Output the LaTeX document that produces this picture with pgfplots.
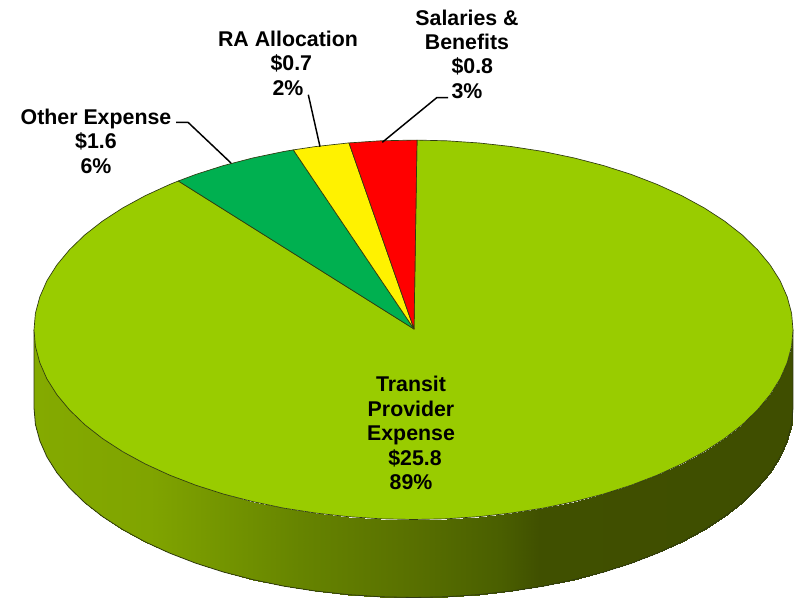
\documentclass[border=0pt]{standalone}
\usepackage{pgfplots}
\usepackage{fontspec}
\setmainfont{Liberation Sans}
\pgfplotsset{compat=1.18}
\definecolor{topg}{HTML}{99CC00}
\definecolor{edge}{HTML}{2F3A10}
\definecolor{sgreen}{HTML}{00B050}
\tikzset{lab/.style={font=\fontsize{16}{18.3}\selectfont\bfseries, align=center, text=black, inner sep=0pt}}
\begin{document}
\begin{tikzpicture}
\begin{axis}[
  scale only axis, width=597pt, height=450pt,
  xmin=0, xmax=796, ymin=0, ymax=600, y dir=reverse,
  hide axis, clip=false,
  colormap={wall}{rgb255(0)=(132,170,0) rgb255(116)=(128,164,0) rgb255(216)=(111,143,0) rgb255(266)=(102,132,0) rgb255(366)=(90,114,0) rgb255(466)=(74,95,0) rgb255(506)=(64,80,0) rgb255(759)=(63,78,0)},
  point meta min=34, point meta max=793,
]
\path[use as bounding box] (axis cs:0,0) rectangle (axis cs:796,600);
% side wall of the pie
\addplot[surf, shader=interp, mesh/rows=2, mesh/cols=37, point meta=x] table[row sep=\\] {
x y\\
34.0 329.8\\ 35.4 346.3\\ 39.8 362.7\\ 46.9 378.9\\ 56.9 394.7\\ 69.6 410.0\\ 84.8 424.7\\ 102.6 438.6\\ 122.8 451.7\\ 145.2 463.9\\ 169.6 475.1\\ 195.8 485.2\\ 223.7 494.1\\ 253.1 501.7\\ 283.7 508.1\\ 315.3 513.0\\ 347.6 516.6\\ 380.4 518.8\\ 413.5 519.5\\
446.6 518.8\\ 479.4 516.6\\ 511.7 513.0\\ 543.3 508.1\\ 573.9 501.7\\ 603.3 494.1\\ 631.2 485.2\\ 657.4 475.1\\ 681.8 463.9\\ 704.2 451.7\\ 724.4 438.6\\ 742.2 424.7\\ 757.4 410.0\\ 770.1 394.7\\ 780.1 378.9\\ 787.2 362.7\\ 791.6 346.3\\ 793.0 329.8\\
34.0 407.8\\ 35.4 424.3\\ 39.8 440.7\\ 46.9 456.9\\ 56.9 472.7\\ 69.6 488.0\\ 84.8 502.7\\ 102.6 516.6\\ 122.8 529.7\\ 145.2 541.9\\ 169.6 553.1\\ 195.8 563.2\\ 223.7 572.1\\ 253.1 579.7\\ 283.7 586.1\\ 315.3 591.0\\ 347.6 594.6\\ 380.4 596.8\\ 413.5 597.5\\
446.6 596.8\\ 479.4 594.6\\ 511.7 591.0\\ 543.3 586.1\\ 573.9 579.7\\ 603.3 572.1\\ 631.2 563.2\\ 657.4 553.1\\ 681.8 541.9\\ 704.2 529.7\\ 724.4 516.6\\ 742.2 502.7\\ 757.4 488.0\\ 770.1 472.7\\ 780.1 456.9\\ 787.2 440.7\\ 791.6 424.3\\ 793.0 407.8\\
};
\addplot[edge, line width=0.6pt, no marks] coordinates {
(34.0,329.8)(34.0,407.8)(35.4,424.3)(39.8,440.7)(46.9,456.9)(56.9,472.7)(69.6,488.0)(84.8,502.7)(102.6,516.6)(122.8,529.7)(145.2,541.9)(169.6,553.1)(195.8,563.2)(223.7,572.1)(253.1,579.7)(283.7,586.1)(315.3,591.0)(347.6,594.6)(380.4,596.8)(413.5,597.5)(446.6,596.8)(479.4,594.6)(511.7,591.0)(543.3,586.1)(573.9,579.7)(603.3,572.1)(631.2,563.2)(657.4,553.1)(681.8,541.9)(704.2,529.7)(724.4,516.6)(742.2,502.7)(757.4,488.0)(770.1,472.7)(780.1,456.9)(787.2,440.7)(791.6,424.3)(793.0,407.8)(793.0,329.8)};
% Transit Provider Expense
\addplot[fill=topg, draw=edge, line width=0.5pt, line join=round] coordinates {
(414,329)(417,140.1)(446.6,140.8)(479.4,143.0)(511.7,146.6)(543.3,151.5)(573.9,157.9)(603.3,165.5)(631.2,174.4)(657.4,184.5)(681.8,195.7)(704.2,207.9)(724.4,221.0)(742.2,234.9)(757.4,249.6)(770.1,264.9)(780.1,280.7)(787.2,296.9)(791.6,313.3)(793.0,329.8)
(791.6,346.3)(787.2,362.7)(780.1,378.9)(770.1,394.7)(757.4,410.0)(742.2,424.7)(724.4,438.6)(704.2,451.7)(681.8,463.9)(657.4,475.1)(631.2,485.2)(603.3,494.1)(573.9,501.7)(543.3,508.1)(511.7,513.0)(479.4,516.6)(446.6,518.8)(413.5,519.5)
(380.4,518.8)(347.6,516.6)(315.3,513.0)(283.7,508.1)(253.1,501.7)(223.7,494.1)(195.8,485.2)(169.6,475.1)(145.2,463.9)(122.8,451.7)(102.6,438.6)(84.8,424.7)(69.6,410.0)(56.9,394.7)(46.9,378.9)(39.8,362.7)(35.4,346.3)(34.0,329.8)
(35.4,313.3)(39.8,296.9)(46.9,280.7)(56.9,264.9)(69.6,249.6)(84.8,234.9)(102.6,221.0)(122.8,207.9)(145.2,195.7)(169.6,184.5)(178.3,181)} -- cycle;
% Other Expense
\addplot[fill=sgreen, draw=edge, line width=0.5pt, line join=round] coordinates {
(414,329)(178.3,181)(195.8,174.4)(223.7,165.5)(253.1,157.9)(283.7,151.5)(293.3,149.9)} -- cycle;
% RA Allocation
\addplot[fill=yellow, draw=edge, line width=0.5pt, line join=round] coordinates {
(414,329)(293.3,149.9)(315.3,146.6)(349,142.9)} -- cycle;
% Salaries & Benefits
\addplot[fill=red, draw=edge, line width=0.5pt, line join=round] coordinates {
(414,329)(349,142.9)(380.4,140.8)(413.5,140.1)(417,140.1)} -- cycle;
% leader lines
\addplot[black, line width=1.1pt, no marks] coordinates {(176,122.3)(188,122.3)(231,163)};
\addplot[black, line width=1.1pt, no marks] coordinates {(308.3,94.7)(320,146.7)};
\addplot[black, line width=1.1pt, no marks] coordinates {(448,97.7)(436.7,97.7)(382.3,142.3)};
% labels
\node[lab] at (axis cs:96,141) {Other Expense\\\$1.6\\6\%};
\node[lab] at (axis cs:288,63) {RA Allocation\\\hspace{5pt}\$0.7\\2\%};
\node[lab] at (axis cs:467,54) {Salaries \&\\Benefits\\\hspace{8pt}\$0.8\\3\%};
\node[lab] at (axis cs:411,433) {Transit\\Provider\\Expense\\\hspace{6pt}\$25.8\\89\%};
\end{axis}
\end{tikzpicture}
\end{document}
